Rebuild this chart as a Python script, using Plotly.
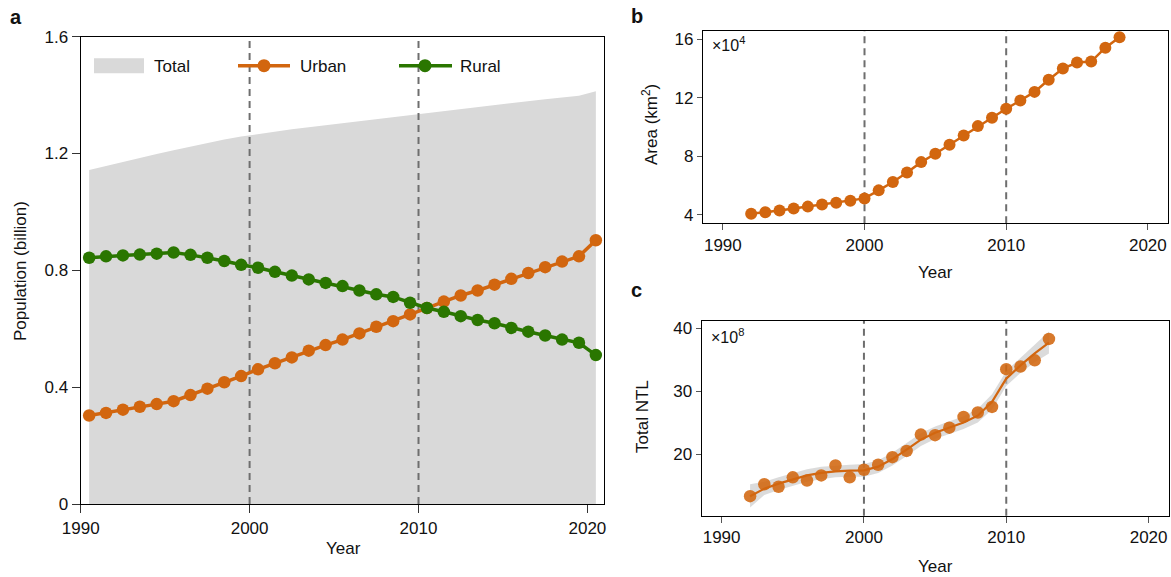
import plotly.graph_objects as go

W, H = 1171, 577
FONT = "Liberation Sans, Arial, Helvetica, sans-serif"
ORANGE = "#D2660F"
GREEN = "#2A7600"
GRAY_FILL = "#D9D9D9"
DASH_COLOR = "#6E6E6E"
TXT = "#111111"
FS = 17

# ---------------- data: panel a (population, billion) ----------------
POP_YEARS = [1990.5, 1991.5, 1992.5, 1993.5, 1994.5, 1995.5, 1996.5, 1997.5,
             1998.5, 1999.5, 2000.5, 2001.5, 2002.5, 2003.5, 2004.5, 2005.5,
             2006.5, 2007.5, 2008.5, 2009.5, 2010.5, 2011.5, 2012.5, 2013.5,
             2014.5, 2015.5, 2016.5, 2017.5, 2018.5, 2019.5, 2020.5]
URBAN = [0.303, 0.312, 0.323, 0.333, 0.342, 0.352, 0.373, 0.395, 0.417, 0.438,
         0.461, 0.482, 0.502, 0.525, 0.544, 0.563, 0.584, 0.607, 0.626, 0.649,
         0.671, 0.693, 0.714, 0.731, 0.751, 0.771, 0.791, 0.811, 0.830, 0.848,
         0.903]
RURAL = [0.843, 0.848, 0.851, 0.854, 0.857, 0.861, 0.853, 0.843, 0.832, 0.819,
         0.809, 0.795, 0.782, 0.769, 0.757, 0.746, 0.731, 0.718, 0.709, 0.689,
         0.671, 0.658, 0.643, 0.630, 0.619, 0.603, 0.590, 0.577, 0.563, 0.552,
         0.510]
TOTAL = [1.144, 1.158, 1.172, 1.185, 1.198, 1.211, 1.224, 1.236, 1.248, 1.258,
         1.267, 1.275, 1.283, 1.290, 1.297, 1.304, 1.311, 1.318, 1.324, 1.331,
         1.338, 1.345, 1.352, 1.359, 1.366, 1.372, 1.379, 1.386, 1.392, 1.398,
         1.413]

# ---------------- data: panel b (urban area, x10^4 km2) ----------------
AREA_YEARS = [1992, 1993, 1994, 1995, 1996, 1997, 1998, 1999, 2000, 2001,
              2002, 2003, 2004, 2005, 2006, 2007, 2008, 2009, 2010, 2011,
              2012, 2013, 2014, 2015, 2016, 2017, 2018]
AREA = [4.09, 4.18, 4.30, 4.44, 4.57, 4.71, 4.83, 4.97, 5.13, 5.68,
        6.25, 6.90, 7.61, 8.18, 8.80, 9.43, 10.07, 10.64, 11.26, 11.82,
        12.41, 13.24, 14.00, 14.41, 14.48, 15.43, 16.14]

# ---------------- data: panel c (total NTL, x10^8) ----------------
NTL_YEARS = [1992, 1993, 1994, 1995, 1996, 1997, 1998, 1999, 2000, 2001,
             2002, 2003, 2004, 2005, 2006, 2007, 2008, 2009, 2010, 2011,
             2012, 2013]
NTL = [13.3, 15.2, 14.8, 16.3, 15.8, 16.6, 18.2, 16.3, 17.5, 18.3,
       19.5, 20.5, 23.1, 23.0, 24.2, 25.9, 26.6, 27.5, 33.5, 33.9,
       34.9, 38.3]
NTL_FIT = [13.3, 14.5, 15.3, 16.0, 16.6, 17.0, 17.25, 17.35, 17.4, 18.0,
           19.2, 20.7, 22.3, 23.4, 24.2, 25.0, 26.1, 28.3, 32.0, 34.1,
           36.0, 37.7]
NTL_LOW = [11.5, 13.5, 14.3, 15.0, 15.6, 16.0, 16.3, 16.4, 16.4, 17.0,
           18.2, 19.7, 21.3, 22.4, 23.2, 24.0, 25.0, 27.1, 30.8, 32.9,
           34.6, 36.0]
NTL_HIGH = [15.2, 15.6, 16.3, 17.0, 17.6, 18.0, 18.2, 18.3, 18.4, 19.0,
            20.2, 21.7, 23.3, 24.4, 25.2, 26.0, 27.2, 29.5, 33.2, 35.3,
            37.4, 39.5]

REF_YEARS = [2000, 2010]
YEAR_TICKS = [1990, 2000, 2010, 2020]

A_XRANGE = [1990, 2021]
A_YRANGE = [0, 1.6]
B_XRANGE = [1988.6, 2021.4]
B_YRANGE = [3.43, 16.59]
C_XRANGE = [1988.6, 2021.4]
C_YRANGE = [10.2, 41.2]


def xd(x0, x1):
    return [x0 / W, x1 / W]


def yd(top, bottom):
    return [1 - bottom / H, 1 - top / H]


def px(x):
    return x / W


def py(y):
    return 1 - y / H


fig = go.Figure()

# ---- panel a ----
fig.add_trace(go.Scatter(x=POP_YEARS, y=TOTAL, mode="lines", fill="tozeroy",
                         fillcolor=GRAY_FILL, line=dict(width=0, color=GRAY_FILL),
                         xaxis="x", yaxis="y", showlegend=False, hoverinfo="skip"))
for yr in REF_YEARS:
    fig.add_trace(go.Scatter(x=[yr, yr], y=A_YRANGE, mode="lines",
                             line=dict(color=DASH_COLOR, width=2, dash="7px,5px"),
                             xaxis="x", yaxis="y", showlegend=False, hoverinfo="skip"))
fig.add_trace(go.Scatter(x=POP_YEARS, y=URBAN, mode="lines+markers",
                         line=dict(color=ORANGE, width=3.5),
                         marker=dict(color=ORANGE, size=12.5),
                         xaxis="x", yaxis="y", showlegend=False))
fig.add_trace(go.Scatter(x=POP_YEARS, y=RURAL, mode="lines+markers",
                         line=dict(color=GREEN, width=3.5),
                         marker=dict(color=GREEN, size=12.5),
                         xaxis="x", yaxis="y", showlegend=False))

# ---- panel b ----
fig.add_trace(go.Scatter(x=AREA_YEARS, y=AREA, mode="lines+markers",
                         line=dict(color=ORANGE, width=2.5),
                         marker=dict(color=ORANGE, size=12),
                         xaxis="x2", yaxis="y2", showlegend=False))

# ---- panel c ----
fig.add_trace(go.Scatter(x=NTL_YEARS, y=NTL_LOW, mode="lines",
                         line=dict(width=0, color="rgba(0,0,0,0)"),
                         xaxis="x3", yaxis="y3", showlegend=False, hoverinfo="skip"))
fig.add_trace(go.Scatter(x=NTL_YEARS, y=NTL_HIGH, mode="lines", fill="tonexty",
                         fillcolor="rgba(195,195,195,0.6)",
                         line=dict(width=0, color="rgba(0,0,0,0)"),
                         xaxis="x3", yaxis="y3", showlegend=False, hoverinfo="skip"))
fig.add_trace(go.Scatter(x=NTL_YEARS, y=NTL, mode="markers",
                         marker=dict(color="rgba(210,102,15,0.88)", size=12.5),
                         xaxis="x3", yaxis="y3", showlegend=False))
fig.add_trace(go.Scatter(x=NTL_YEARS, y=NTL_FIT, mode="lines",
                         line=dict(color=ORANGE, width=2.2),
                         xaxis="x3", yaxis="y3", showlegend=False))

shapes = []
for yr in REF_YEARS:
    for xr, yr_ref in (("x2", "y2 domain"), ("x3", "y3 domain")):
        shapes.append(dict(type="line", xref=xr, yref=yr_ref, x0=yr, x1=yr, y0=0, y1=1,
                           line=dict(color=DASH_COLOR, width=2, dash="7px,5px"),
                           layer="below"))

# legend (panel a)
shapes.append(dict(type="rect", xref="paper", yref="paper",
                   x0=px(94), x1=px(144), y0=py(73.3), y1=py(58.3),
                   fillcolor=GRAY_FILL, line=dict(width=0)))
for (lx0, lx1, dotx, col) in ((238, 290, 264, ORANGE), (399, 452, 425, GREEN)):
    shapes.append(dict(type="line", xref="paper", yref="paper",
                       x0=px(lx0), x1=px(lx1), y0=py(65.7), y1=py(65.7),
                       line=dict(color=col, width=3.5)))
    shapes.append(dict(type="circle", xref="paper", yref="paper",
                       x0=px(dotx - 6.5), x1=px(dotx + 6.5),
                       y0=py(65.7 + 6.5), y1=py(65.7 - 6.5),
                       fillcolor=col, line=dict(width=0)))

ann = []


def text(x, y, s, size=FS, angle=0, xanchor="center", bold=False):
    ann.append(dict(xref="paper", yref="paper", x=px(x), y=py(y), text=s,
                    showarrow=False, textangle=angle, xanchor=xanchor, yanchor="middle",
                    font=dict(family=FONT, size=size, color=TXT,
                              weight="bold" if bold else "normal")))


text(151.7, 66.7, "Total", xanchor="left")
text(297.6, 66.7, "Urban", xanchor="left")
text(458, 66.7, "Rural", xanchor="left")

text(20, 271, "Population (billion)", angle=-90)
text(343, 548, "Year")
text(650, 125, "Area (km<sup>2</sup>)", angle=-90)
text(935, 272, "Year")
text(642, 417, "Total NTL", angle=-90)
text(935, 566, "Year")

text(710, 44, "×10<sup>4</sup>", size=16, xanchor="left")
text(709, 336, "×10<sup>8</sup>", size=16, xanchor="left")

text(15.5, 17, "a", size=20, bold=True)
text(637, 16, "b", size=20, bold=True)
text(636, 290, "c", size=20, bold=True)

common_axis = dict(showline=True, linecolor="black", linewidth=1.3, mirror=True,
                   showgrid=False, zeroline=False, ticks="outside",
                   tickfont=dict(family=FONT, size=FS, color=TXT),
                   automargin=False)

fig.update_layout(
    width=W, height=H,
    margin=dict(l=0, r=0, t=0, b=0),
    paper_bgcolor="white", plot_bgcolor="white",
    showlegend=False,
    font=dict(family=FONT, color=TXT),
    xaxis=dict(domain=xd(80.7, 604.3), range=A_XRANGE, tickvals=YEAR_TICKS,
               ticklen=8, tickcolor="#333", anchor="y", **common_axis),
    yaxis=dict(domain=yd(36.7, 504), range=A_YRANGE, tickvals=[0, 0.4, 0.8, 1.2, 1.6],
               ticktext=["0", "0.4", "0.8", "1.2", "1.6"], ticklen=8, tickcolor="#333",
               anchor="x", **common_axis),
    xaxis2=dict(domain=xd(703, 1167.7), range=B_XRANGE, tickvals=YEAR_TICKS,
                ticklen=6, tickcolor="#555", anchor="y2", **common_axis),
    yaxis2=dict(domain=yd(30.7, 223.3), range=B_YRANGE, tickvals=[4, 8, 12, 16],
                ticklen=5, tickcolor="#555", anchor="x2", **common_axis),
    xaxis3=dict(domain=xd(701.7, 1168.5), range=C_XRANGE, tickvals=YEAR_TICKS,
                ticklen=6, tickcolor="#555", anchor="y3", **common_axis),
    yaxis3=dict(domain=yd(320.7, 515.7), range=C_YRANGE, tickvals=[20, 30, 40],
                ticklen=5, tickcolor="#555", anchor="x3", **common_axis),
    shapes=shapes,
    annotations=ann,
)

fig.write_html("out.html", config={"displayModeBar": False})
